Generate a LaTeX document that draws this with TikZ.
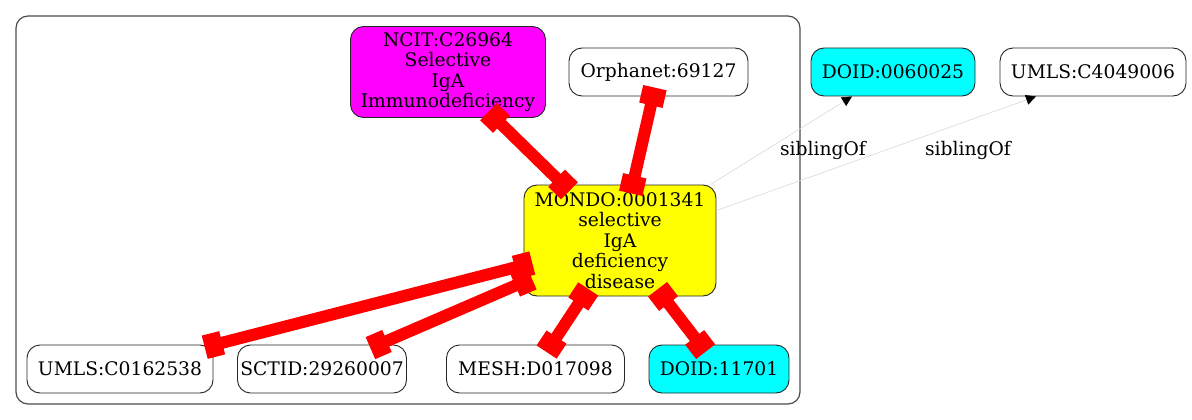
\documentclass[tikz,border=0pt]{standalone}
\usepackage{fontspec}
\setmainfont{DejaVu Serif}
\usetikzlibrary{arrows.meta}
\definecolor{mag}{RGB}{255,0,255}
\definecolor{cya}{RGB}{0,255,255}
\definecolor{yel}{RGB}{255,255,0}
\definecolor{redx}{RGB}{255,0,0}
\begin{document}
\begin{tikzpicture}[x=1pt,y=-1pt,
  txt/.style={font=\fontsize{18.7}{20.5}\selectfont},
  box/.style={txt, draw=black!85, line width=0.9pt, rounded corners=13pt, inner sep=0pt, align=center, minimum height=48pt},
  rel/.style={draw=redx, line width=12pt, {Rectangle[length=18pt,width=24pt]}-{Rectangle[length=18pt,width=24pt]}, shorten <=-9pt, shorten >=-9pt},
  sib/.style={draw=black!15, line width=0.6pt, -{Triangle[length=10pt,width=10pt,color=black,fill=black]}},
  lab/.style={txt, inner sep=0pt}]
\fill[white] (0,0) rectangle (1192,420);
\useasboundingbox (0,0) rectangle (1192,420);
\draw[black!70, line width=1.2pt, rounded corners=12pt] (16,16) rectangle (800,404);
% nodes
\node[box, fill=mag, minimum width=195pt, minimum height=91pt] (ncit) at (448,72) {NCIT:C26964\\Selective\\IgA\\Immunodeficiency};
\node[box, fill=white, minimum width=179pt] (orph) at (658.5,72) {Orphanet:69127};
\node[box, fill=cya, minimum width=164pt] (doidb) at (893,72) {DOID:0060025};
\node[box, fill=white, minimum width=186pt] (umlsb) at (1093,72) {UMLS:C4049006};
\node[box, fill=yel, minimum width=192pt, minimum height=111pt] (mondo) at (620,240.5) {MONDO:0001341\\selective\\IgA\\deficiency\\disease};
\node[box, fill=white, minimum width=186pt] (umlsa) at (120,369) {UMLS:C0162538};
\node[box, fill=white, minimum width=169pt] (sctid) at (322,369) {SCTID:29260007};
\node[box, fill=white, minimum width=178pt] (mesh) at (535.5,369) {MESH:D017098};
\node[box, fill=cya, minimum width=140pt] (doida) at (719,369) {DOID:11701};
% red relations
\draw[rel] (ncit) -- (mondo);
\draw[rel] (orph) -- (mondo);
\draw[rel] (mondo) -- (umlsa);
\draw[rel] (mondo) -- (sctid);
\draw[rel] (mondo) -- (mesh);
\draw[rel] (mondo) -- (doida);
% sibling edges
\draw[sib] ([xshift=-6pt]mondo.north east) -- ([xshift=-41pt]doidb.south);
\draw[sib] ([yshift=30pt]mondo.east) -- ([xshift=-57pt]umlsb.south);
\node[lab] (s1) at (823,150) {siblingOf};
\node[lab] (s2) at (968,150) {siblingOf};
\end{tikzpicture}
\end{document}
